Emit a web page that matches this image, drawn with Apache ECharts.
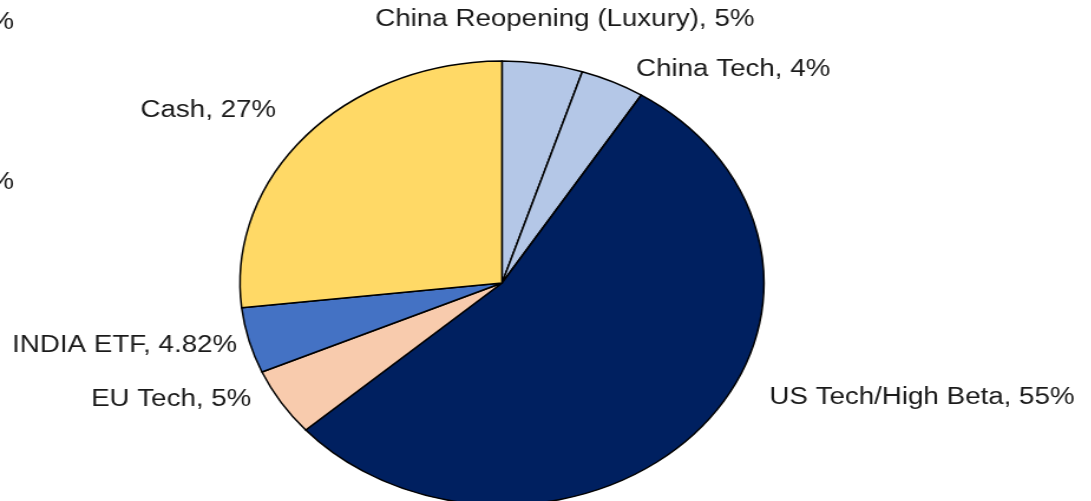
<!DOCTYPE html>
<html lang="en" style="height: 100%">
<head>
  <meta charset="utf-8">
  <style>
    body { margin: 0; overflow: hidden; background: #fff; }
    /* the reference pie is an ellipse, so the chart is stretched horizontally */
    #container {
      position: absolute; left: 0; top: 0;
      width: 925px; height: 501px;
      transform: scaleX(1.18); transform-origin: 0 0;
    }
  </style>
</head>
<body>
  <div id="container"></div>
  <script src="https://cdn.jsdelivr.net/npm/echarts@6/dist/echarts.min.js"></script>
  <script>
    const names = ['China Reopening (Luxury)', 'China Tech', 'US Tech/High Beta', 'EU Tech', 'INDIA ETF', 'Cash'];
    const values = [5, 4, 55, 5, 4.82, 27];
    const colors = ['#B4C7E7', '#B4C7E7', '#002060', '#F8CBAD', '#4472C4', '#FFD966'];

    var chart = echarts.init(document.getElementById('container'), null, { renderer: 'canvas' });

    // label anchors (unstretched coords), like the excel outside-end placement
    var labelSpots = [
      [318, 20, 'left'],
      [539, 70, 'left'],
      [652, 398, 'left'],
      [213, 400, 'right'],
      [201, 346, 'right'],
      [234, 111, 'right']
    ];

    var option = {
      animation: false,
      textStyle: { fontFamily: 'Liberation Sans, Arial, sans-serif' },
      series: [{
        type: 'pie',
        center: [425.4, 283],
        radius: 222,
        startAngle: 90,
        clockwise: true,
        avoidLabelOverlap: false,
        data: names.map(function (n, i) {
          return { name: n, value: values[i], itemStyle: { color: colors[i] } };
        }),
        itemStyle: { borderColor: '#000', borderWidth: 1.5 },
        label: {
          show: true,
          position: 'outside',
          formatter: '{b}, {c}%',
          fontSize: 23.5,
          color: '#1a1a1a',
          fontFamily: 'Liberation Sans, Arial, sans-serif'
        },
        labelLine: { show: false },
        labelLayout: function (p) {
          var s = labelSpots[p.dataIndex];
          return { x: s[0], y: s[1], align: s[2], verticalAlign: 'middle', hideOverlap: false, moveOverlap: null };
        },
        emphasis: { disabled: true }
      }],
      graphic: [
        { type: 'text', x: -9, y: 11, style: { text: '%', fontSize: 23.5, fill: '#1a1a1a', fontFamily: 'Liberation Sans' } },
        { type: 'text', x: -9, y: 171, style: { text: '%', fontSize: 23.5, fill: '#1a1a1a', fontFamily: 'Liberation Sans' } }
      ]
    };

    chart.setOption(option);
  </script>
</body>
</html>
